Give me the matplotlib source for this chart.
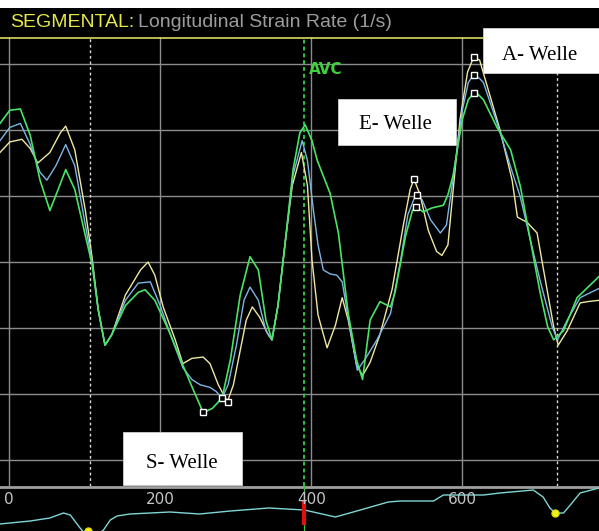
import numpy as np
import matplotlib
matplotlib.use("Agg")
import matplotlib.pyplot as plt
from matplotlib.patches import Rectangle

# time axis (ms) and strain rate (1/s)
t_green = [-12, 1, 15, 28, 41, 54, 65, 75, 87, 101, 110, 118, 127, 136, 154, 171, 180, 193,
           213, 230, 244, 257, 269, 282, 293, 306, 319, 330, 340, 348, 356, 366, 376, 385,
           392, 401, 408, 425, 436, 449, 460, 468, 478, 491, 505, 511, 525, 534, 539, 548,
           560, 575, 581, 588, 600, 608, 615, 621, 628, 646, 664, 677, 690, 703, 713, 721,
           734, 752, 781]
sr_green = [1.05, 1.15, 1.16, 0.96, 0.62, 0.39, 0.55, 0.70, 0.55, 0.20, -0.02, -0.36, -0.63,
            -0.55, -0.33, -0.23, -0.21, -0.29, -0.54, -0.78, -0.97, -1.14, -1.11, -1.03, -0.74,
            -0.25, 0.04, -0.06, -0.44, -0.59, -0.33, 0.17, 0.70, 0.98, 1.04, 0.92, 0.77, 0.52,
            0.22, -0.39, -0.74, -0.89, -0.44, -0.30, -0.34, -0.23, 0.20, 0.39, 0.42, 0.38, 0.41,
            0.43, 0.51, 0.66, 1.08, 1.23, 1.28, 1.27, 1.23, 1.02, 0.85, 0.57, 0.17, -0.23, -0.49,
            -0.59, -0.52, -0.27, -0.11]

t_blue = [-12, 1, 15, 28, 41, 50, 62, 75, 87, 101, 110, 118, 127, 136, 154, 171, 187, 200,
          213, 230, 242, 253, 266, 274, 282, 290, 301, 311, 319, 330, 340, 348, 356, 366, 376,
          388, 395, 403, 409, 416, 425, 434, 441, 452, 461, 472, 487, 505, 518, 528, 539, 547,
          558, 571, 579, 588, 600, 608, 615, 623, 628, 648, 664, 677, 690, 703, 719, 726, 739,
          756, 781]
sr_blue = [0.92, 1.02, 1.05, 0.89, 0.68, 0.62, 0.73, 0.89, 0.73, 0.28, 0.00, -0.36, -0.63,
           -0.55, -0.29, -0.16, -0.15, -0.33, -0.54, -0.80, -0.89, -0.93, -0.95, -0.98, -1.03,
           -0.93, -0.63, -0.29, -0.19, -0.29, -0.52, -0.59, -0.33, 0.17, 0.66, 0.92, 0.77, 0.39,
           0.13, -0.06, -0.09, -0.10, -0.15, -0.52, -0.82, -0.73, -0.59, -0.39, 0.00, 0.36, 0.52,
           0.47, 0.32, 0.22, 0.28, 0.64, 1.15, 1.36, 1.42, 1.39, 1.36, 1.02, 0.72, 0.49, 0.17,
           -0.14, -0.49, -0.59, -0.44, -0.27, -0.20]

t_yellow = [-12, 1, 17, 28, 38, 54, 68, 75, 87, 101, 110, 118, 127, 136, 154, 174, 184, 193,
            204, 220, 230, 242, 257, 266, 277, 289, 297, 306, 314, 322, 332, 343, 348, 356, 366,
            375, 387, 395, 401, 409, 421, 432, 441, 449, 460, 468, 478, 491, 507, 522, 531, 536,
            544, 555, 566, 573, 581, 588, 597, 607, 615, 623, 628, 650, 666, 673, 686, 699, 707,
            721, 727, 739, 756, 766, 781]
sr_yellow = [0.83, 0.91, 0.93, 0.86, 0.75, 0.83, 0.98, 1.03, 0.85, 0.39, 0.03, -0.36, -0.63,
             -0.55, -0.25, -0.06, 0.00, -0.10, -0.34, -0.59, -0.77, -0.73, -0.72, -0.77, -0.93,
             -1.06, -0.93, -0.67, -0.44, -0.34, -0.42, -0.55, -0.59, -0.33, 0.17, 0.58, 0.83,
             0.58, 0.02, -0.40, -0.65, -0.48, -0.27, -0.44, -0.78, -0.86, -0.76, -0.55, -0.21,
             0.28, 0.55, 0.63, 0.51, 0.24, 0.08, 0.05, 0.13, 0.55, 1.08, 1.44, 1.55, 1.53, 1.43,
             1.00, 0.62, 0.34, 0.30, 0.22, -0.04, -0.49, -0.63, -0.52, -0.31, -0.30, -0.29]

# peak markers (S, E, A) for each segment
mark_t = [257, 282, 290, 536, 540, 539, 615, 615, 615]
mark_sr = [-1.14, -1.03, -1.06, 0.63, 0.51, 0.42, 1.55, 1.42, 1.28]

# ECG trace in the bottom strip
ecg_t = [-12, 1, 28, 54, 72, 81, 94, 102, 114, 125, 134, 143, 160, 187, 213, 252, 293, 344,
         391, 432, 465, 502, 518, 562, 575, 628, 650, 694, 707, 716, 723, 734, 743, 756, 781]
ecg_v = [-0.70, -0.65, -0.55, -0.40, -0.15, -0.25, -0.90, -1.25, -1.30, -1.00, -0.50, -0.30,
         -0.20, -0.15, -0.10, -0.20, -0.05, 0.10, 0.00, -0.35, 0.00, 0.40, 0.45, 0.45, 0.75,
         0.75, 0.85, 1.00, 0.65, 0.10, -0.15, -0.15, 0.25, 0.85, 1.10]
ecg_dot_t = [105, 723]
ecg_dot_v = [-1.05, -0.15]

grid_sr = [-1.5, -1.0, -0.5, 0.0, 0.5, 1.0, 1.5]
grid_t = [0, 200, 400, 600]
tick_labels = ["0", "200", "400", "600"]
dotted_t = [107, 726]
avc_t = 391

W, H = 599, 531
fig = plt.figure(figsize=(W / 100, H / 100), dpi=100, facecolor="white")

def fbox(x0, y0, x1, y1):
    # pixel box (top-left origin) -> figure fraction rect
    return [x0 / W, 1 - y1 / H, (x1 - x0) / W, (y1 - y0) / H]

# header
hdr = fig.add_axes(fbox(0, 8, W, 37))
hdr.set_facecolor("black")
hdr.set_xticks([]); hdr.set_yticks([])
for s in hdr.spines.values():
    s.set_visible(False)
t1 = hdr.text(10 / W, 0.5, "SEGMENTAL:", color="#e6e84a", fontsize=14,
              family="Liberation Sans", va="center", ha="left", transform=hdr.transAxes)
fig.canvas.draw()
bb = t1.get_window_extent()
hdr.text(bb.x1 / W + 0.006, 0.5, "Longitudinal Strain Rate (1/s)", color="#9c9c9c",
         fontsize=14, family="Liberation Sans", va="center", ha="left",
         transform=hdr.transAxes)

# main strain rate panel
ax = fig.add_axes(fbox(0, 37, W, 486))
ax.set_facecolor("black")
ax.set_xlim(-12, 781)
ax.set_ylim(-1.697, 1.705)
ax.set_xticks([]); ax.set_yticks([])
for s in ax.spines.values():
    s.set_visible(False)

for g in grid_sr:
    ax.axhline(g, color="#8c8c8c", lw=1.0, zorder=1)
for g in grid_t:
    ax.axvline(g, color="#8c8c8c", lw=1.0, zorder=1)
for d in dotted_t:
    ax.axvline(d, color="#d8d8d0", lw=1.0, dashes=(2, 2), zorder=1)
ax.axvline(avc_t, color="#30c040", lw=1.4, dashes=(2, 1.5), zorder=1)
ax.axhline(1.70, color="#d8d860", lw=1.2, zorder=2)
ax.text(avc_t + 6, 1.46, "AVC", color="#40d040", fontsize=11, fontweight="bold",
        va="center", ha="left")

ax.plot(t_yellow, sr_yellow, color="#efe8a0", lw=1.0, zorder=3, solid_joinstyle="round")
ax.plot(t_blue, sr_blue, color="#7db6e6", lw=1.0, zorder=3, solid_joinstyle="round")
ax.plot(t_green, sr_green, color="#48e466", lw=1.2, zorder=4, solid_joinstyle="round")
ax.plot(mark_t, mark_sr, ls="none", marker="s", ms=4.5, mfc="black", mec="white",
        mew=1.0, zorder=5)

# ECG strip
ecg = fig.add_axes(fbox(0, 486, W, H))
ecg.set_facecolor("black")
ecg.set_xlim(-12, 781)
ecg.set_ylim(-1.05, 1.2)
ecg.set_xticks([]); ecg.set_yticks([])
for s in ecg.spines.values():
    s.set_visible(False)
ecg.axhline(1.15, color="#a0a0a0", lw=2.0)
ecg.axvline(avc_t, color="#40c040", lw=0.8)
ecg.plot(ecg_t, ecg_v, color="#7fd6d6", lw=1.0)
ecg.plot([avc_t, avc_t], [0.35, -0.65], color="#e01010", lw=3)
ecg.plot(ecg_dot_t, ecg_dot_v, ls="none", marker="o", ms=5, mfc="#f0f020",
         mec="#e0e000")
for tv, lab in zip(grid_t, tick_labels):
    ecg.text(tv, 0.55, lab, color="#c4c4c4", fontsize=11, ha="center", va="center")

# annotation boxes
def label_box(x0, y0, x1, y1, txt, tx, ty):
    fig.patches.append(Rectangle((x0 / W, 1 - y1 / H), (x1 - x0) / W, (y1 - y0) / H,
                                 transform=fig.transFigure, facecolor="white",
                                 edgecolor="#d0d0d0", lw=0.6, zorder=10))
    fig.text(tx / W, 1 - ty / H, txt, fontsize=15, family="Liberation Serif",
             color="black", ha="center", va="baseline", zorder=11)

label_box(483, 28, 599, 73, "A- Welle", 540, 60)
label_box(338, 99, 456, 145, "E- Welle", 395, 129)
label_box(123, 432, 242, 485, "S- Welle", 182, 468)

fig.savefig("out.png", dpi=100, facecolor="white")
